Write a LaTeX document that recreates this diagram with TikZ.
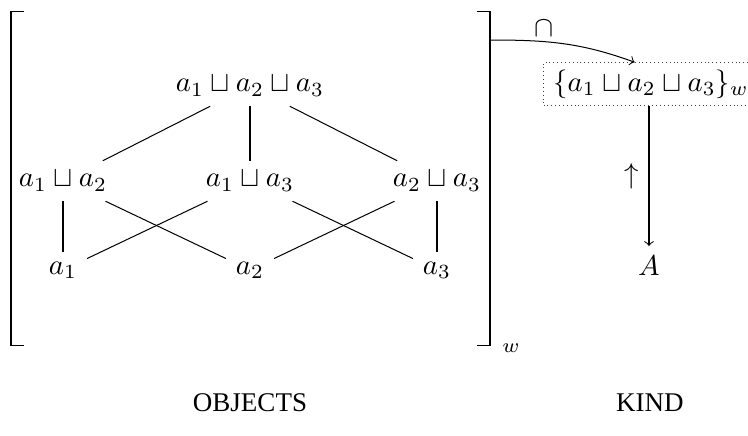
\documentclass[tikz,border=0pt]{standalone}
\usepackage{fontspec}
\newfontfamily\capfont{Liberation Serif}
\begin{document}
\begin{tikzpicture}[x=0.348pt,y=-0.348pt,line width=0.35pt,
  kindbox/.style={draw=black!75,densely dotted,text width=68pt,align=left,inner xsep=3.4pt,inner ysep=2.4pt},
  caption/.style={font=\capfont\fontsize{9.4}{11}\selectfont}]
  \useasboundingbox (0,0) rectangle (748,435);
  % lattice of joins
  \node (top) at (250,86) {$a_1\sqcup a_2\sqcup a_3$};
  \node (j12) at (63,181) {$a_1\sqcup a_2$};
  \node (j13) at (250,181) {$a_1\sqcup a_3$};
  \node (j23) at (437,181) {$a_2\sqcup a_3$};
  \node (a1) at (63,270) {$a_1$};
  \node (a2) at (250,270) {$a_2$};
  \node (a3) at (437,270) {$a_3$};
  \foreach \u/\v in {top/j12,top/j13,top/j23,j12/a1,j12/a2,j13/a1,j13/a3,j23/a2,j23/a3}
    \draw (\u) -- (\v);
  % brackets
  \draw (24,11) -- (11,11) -- (11,345) -- (24,345);
  \draw (477,11) -- (490,11) -- (490,345) -- (477,345);
  \node[inner sep=1pt] (wsub) at (511,348) {$\scriptstyle w$};
  % kind
  \node[kindbox,anchor=west] (kind) at (543,84) {$\{a_1\sqcup a_2\sqcup a_3\}_w$};
  \node (setA) at (649,266) {$A$};
  \coordinate (rb) at (491,40);
  \draw[->] (rb) to[out=0,in=160] node[above,pos=0.35,inner sep=1.5pt] {$\cap$} ([xshift=-5pt]kind.north -| setA);
  \draw[->] (kind.south -| setA) -- node[left] {$\uparrow$} (setA);
  \node[caption] (objects) at (250,403) {OBJECTS};
  \node[caption] (kindlbl) at (650,403) {KIND};
\end{tikzpicture}
\end{document}
